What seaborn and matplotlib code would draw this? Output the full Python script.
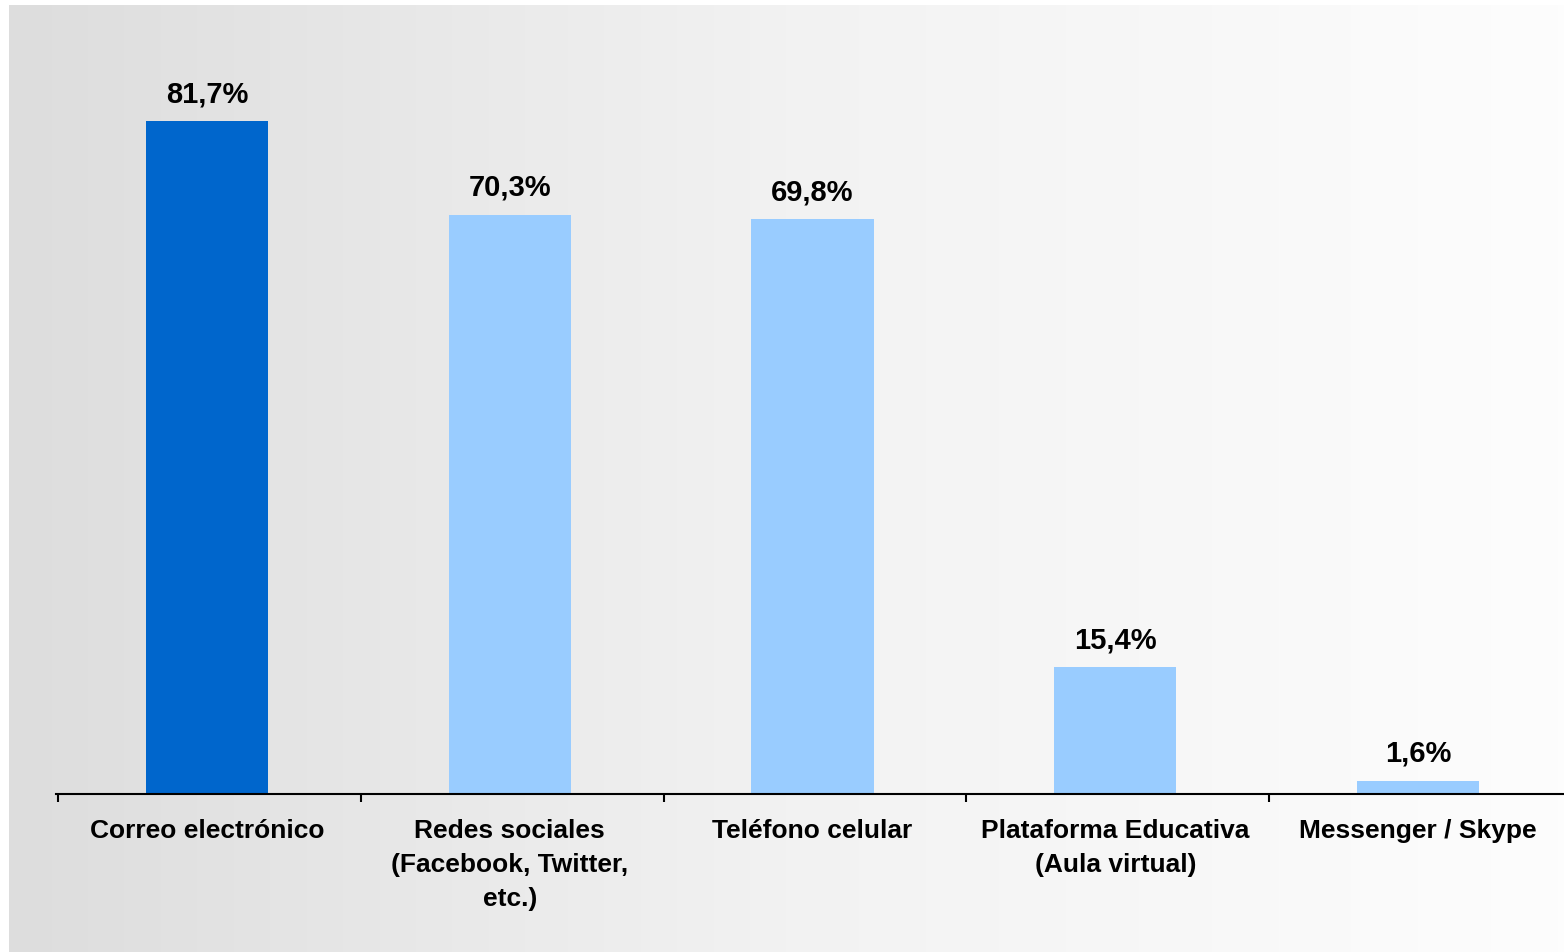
import numpy as np
import pandas as pd
import matplotlib
matplotlib.use('Agg')
import matplotlib.pyplot as plt
from matplotlib.colors import LinearSegmentedColormap
import seaborn as sns

# Chart data
categories = [
    'Correo electrónico',
    'Redes sociales\n(Facebook, Twitter,\netc.)',
    'Teléfono celular',
    'Plataforma Educativa\n(Aula virtual)',
    'Messenger / Skype',
]
values = [81.7, 70.3, 69.8, 15.4, 1.6]
value_labels = ['81,7%', '70,3%', '69,8%', '15,4%', '1,6%']
bar_colors = ['#0066CC', '#99CCFF', '#99CCFF', '#99CCFF', '#99CCFF']

df = pd.DataFrame({'medio': categories, 'pct': values})

sns.set_theme(style='white')
plt.rcParams['font.family'] = ['Liberation Sans', 'DejaVu Sans']

W, H = 1564, 952
fig = plt.figure(figsize=(W / 100, H / 100), dpi=100)
fig.patch.set_facecolor('white')

# gradient background panel
bg = fig.add_axes([9 / W, 0, 1 - 9 / W, (H - 5) / H], zorder=0)
grad = np.linspace(0, 1, 512).reshape(1, -1)
cmap = LinearSegmentedColormap.from_list('bg', ['#dddddd', '#f2f2f2', '#fdfdfd'])
bg.imshow(grad, aspect='auto', cmap=cmap, extent=[0, 1, 0, 1])
bg.set_axis_off()

# plot area: x axis line at y=794, bars centred at 207 + 302.75*i
step = 302.75
x0 = 207 - 0.5 * step
x1 = x0 + 5 * step
ax = fig.add_axes([x0 / W, (H - 794) / H, (x1 - x0) / W, (794 - 5) / H], zorder=1)
ax.patch.set_alpha(0)

sns.barplot(data=df, x='medio', y='pct', hue='medio', palette=bar_colors,
            width=0.403, saturation=1, linewidth=0, legend=False, ax=ax)

ax.set_xlim(-0.5, 4.5)
ax.set_ylim(0, (794 - 5) / 8.237)

for i, (v, lab) in enumerate(zip(values, value_labels)):
    ax.annotate(lab, xy=(i, v), xytext=(0, 27), textcoords='offset pixels',
                ha='center', va='center', fontsize=21, fontweight='bold', color='black')

for s in ['top', 'right', 'left']:
    ax.spines[s].set_visible(False)
ax.spines['bottom'].set_color('black')
ax.spines['bottom'].set_linewidth(1.5)
ax.set_yticks([])
ax.set_ylabel('')
ax.set_xlabel('')

tick_off = (58 - 207) / step
ax.set_xticks([i + tick_off for i in range(5)])
ax.set_xticklabels([])
ax.tick_params(axis='x', which='major', direction='out', length=6, width=1.5, color='black', bottom=True)

for i, lab in enumerate(categories):
    ax.annotate(lab, xy=(i, 0), xytext=(0, -25), textcoords='offset pixels',
                ha='center', va='top', fontsize=19, fontweight='bold', color='black',
                linespacing=1.53, annotation_clip=False)

fig.savefig('out.png', dpi=100)
